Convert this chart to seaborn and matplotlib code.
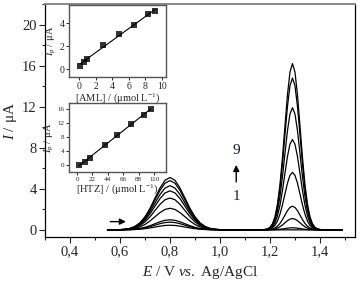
import numpy as np
import pandas as pd
import matplotlib
matplotlib.use("Agg")
import matplotlib.pyplot as plt
from matplotlib.ticker import MultipleLocator, FuncFormatter
import seaborn as sns

# potential grid (V vs Ag/AgCl) and normalised peak shapes
potential = [0.55, 0.58, 0.60, 0.62, 0.64, 0.66, 0.68, 0.70, 0.72, 0.74, 0.76, 0.78,
             0.80, 0.82, 0.84, 0.86, 0.88, 0.90, 0.92, 0.94, 0.96, 0.98, 1.00, 1.05,
             1.10, 1.15, 1.18, 1.19, 1.20, 1.21, 1.22, 1.23, 1.24, 1.25, 1.26, 1.27,
             1.28, 1.29, 1.30, 1.31, 1.32, 1.33, 1.34, 1.35, 1.36, 1.37, 1.38, 1.39,
             1.40, 1.42, 1.45, 1.49]
aml_shape = [0.0, 0.001, 0.004, 0.011, 0.028, 0.066, 0.135, 0.25, 0.41, 0.607, 0.80, 0.946,
             1.0, 0.946, 0.80, 0.607, 0.41, 0.25, 0.135, 0.066, 0.028, 0.011, 0.004, 0.0,
             0.0, 0.0, 0.0, 0.0, 0.0, 0.0, 0.0, 0.0, 0.0, 0.0, 0.0, 0.0,
             0.0, 0.0, 0.0, 0.0, 0.0, 0.0, 0.0, 0.0, 0.0, 0.0, 0.0, 0.0,
             0.0, 0.0, 0.0, 0.0]
htz_shape = [0.0, 0.0, 0.0, 0.0, 0.0, 0.0, 0.0, 0.0, 0.0, 0.0, 0.0, 0.0,
             0.0, 0.0, 0.0, 0.0, 0.0, 0.0, 0.0, 0.0, 0.0, 0.0, 0.0, 0.0,
             0.0, 0.0, 0.002, 0.0055, 0.015, 0.036, 0.078, 0.154, 0.272, 0.435, 0.626, 0.812,
             0.949, 1.0, 0.949, 0.812, 0.626, 0.435, 0.272, 0.154, 0.078, 0.036, 0.015, 0.0055,
             0.002, 0.0, 0.0, 0.0]

# peak currents (uA) of the 9 voltammograms
aml_peak = [0.45, 0.75, 0.98, 2.1, 3.1, 3.8, 4.3, 4.8, 5.1]
htz_peak = [0.0, 0.2, 1.1, 2.3, 5.6, 8.8, 11.9, 14.8, 16.2]

# calibration data
aml_conc = [0.12, 0.57, 0.97, 2.94, 4.84, 6.65, 8.38, 9.2]
aml_ip = [0.31, 0.63, 0.9, 2.14, 3.1, 3.85, 4.78, 5.07]
htz_conc = [2.9, 11.0, 19.0, 39.6, 57.7, 76.7, 95.7, 105.0]
htz_ip = [0.0, 0.86, 2.0, 5.56, 8.7, 11.8, 14.5, 16.0]

sns.set_style("ticks")
plt.rcParams['font.family'] = ['Liberation Serif', 'DejaVu Serif']
plt.rcParams['mathtext.fontset'] = 'custom'
plt.rcParams['mathtext.rm'] = 'Liberation Serif'
plt.rcParams['mathtext.it'] = 'Liberation Serif:italic'

rows = []
pot = np.array(potential)
for k in range(len(aml_peak)):
    cur = aml_peak[k] * np.array(aml_shape) + htz_peak[k] * np.array(htz_shape)
    rows.append(pd.DataFrame({'E': pot, 'I': cur, 'scan': k + 1}))
df = pd.concat(rows, ignore_index=True)

fig = plt.figure(figsize=(3.6, 2.88), dpi=100)
ax = fig.add_axes([0.125, 0.177, 0.861, 0.809])
sns.lineplot(data=df, x='E', y='I', units='scan', estimator=None, color='black',
             lw=0.9, ax=ax, legend=False)
ax.set_xlim(0.3, 1.54)
ax.set_ylim(-0.7, 22)
ax.xaxis.set_major_locator(MultipleLocator(0.2))
ax.xaxis.set_minor_locator(MultipleLocator(0.1))
ax.yaxis.set_major_locator(MultipleLocator(4))
ax.yaxis.set_minor_locator(MultipleLocator(2))
ax.xaxis.set_major_formatter(FuncFormatter(lambda v, p: f"{v:.1f}".replace('.', ',')))
ax.tick_params(which='major', direction='out', length=4, width=0.8, labelsize=10.5, pad=2)
ax.tick_params(which='minor', direction='out', length=2.5, width=0.8)
ax.set_xlabel(r'$E$ / V $vs.$ Ag/AgCl', fontsize=11, labelpad=4)
ax.set_ylabel(r'$I$ / μA', fontsize=11, labelpad=2)
for s in ['left', 'bottom', 'right']:
    ax.spines[s].set_color('black')
    ax.spines[s].set_linewidth(0.9)
ax.spines['top'].set_color('#888888')
ax.spines['top'].set_linewidth(1.4)

ax.annotate('', xy=(0.635, 0.8), xytext=(0.55, 0.8),
            arrowprops=dict(arrowstyle='-|>', color='black', lw=1.0, mutation_scale=9))
ax.annotate('', xy=(1.065, 6.6), xytext=(1.065, 4.4),
            arrowprops=dict(arrowstyle='-|>', color='black', lw=1.0, mutation_scale=9))
ax.text(1.065, 7.7, '9', fontsize=11, ha='center', va='center', color='#101530')
ax.text(1.065, 3.2, '1', fontsize=11, ha='center', va='center', color='#2a1e0a')


def inset(rect, conc, ip, xlim, ylim, xstep, ystep, xlabel, tsize):
    ia = fig.add_axes(rect)
    sns.regplot(x=conc, y=ip, ci=None, ax=ia, color='black', marker='s',
                scatter_kws=dict(s=14, linewidths=0), line_kws=dict(lw=0.8))
    ia.set_xlim(*xlim)
    ia.set_ylim(*ylim)
    ia.xaxis.set_major_locator(MultipleLocator(xstep))
    ia.yaxis.set_major_locator(MultipleLocator(ystep))
    ia.tick_params(direction='out', length=2.5, width=0.7, labelsize=tsize, pad=1)
    ia.set_xlabel(xlabel, fontsize=7.5, labelpad=0)
    ia.set_ylabel(r'$I_{\rm p}$ / μA', fontsize=7.5, labelpad=1)
    for s in ia.spines.values():
        s.set_color('#555555')
        s.set_linewidth(1.0)
    return ia


inset([0.192, 0.733, 0.269, 0.25], aml_conc, aml_ip, (-1.2, 10.5), (-0.67, 5.6), 2, 2,
      r'[AML] / (μmol L$^{-1}$)', 7)
inset([0.192, 0.403, 0.269, 0.24], htz_conc, htz_ip, (-11.4, 127), (-2.1, 17.9), 22, 4,
      r'[HTZ] / (μmol L$^{-1}$)', 5)

fig.savefig('out.png', dpi=100)
